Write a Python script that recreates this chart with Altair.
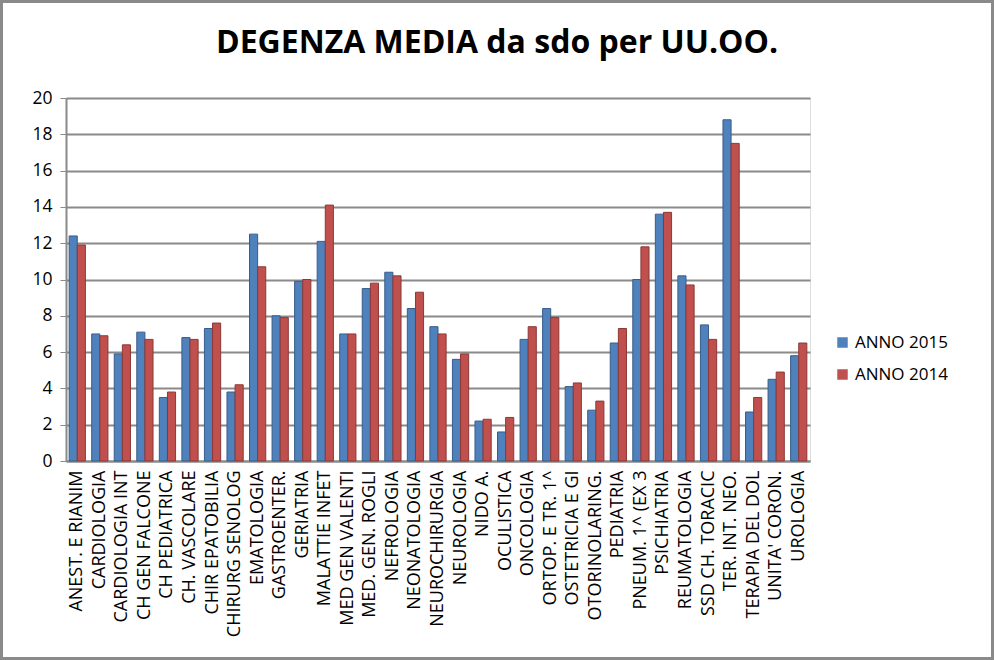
import altair as alt
import pandas as pd

categories = [
    "ANEST. E RIANIM", "CARDIOLOGIA", "CARDIOLOGIA INT", "CH GEN FALCONE",
    "CH PEDIATRICA", "CH. VASCOLARE", "CHIR EPATOBILIA", "CHIRURG SENOLOG",
    "EMATOLOGIA", "GASTROENTER.", "GERIATRIA", "MALATTIE INFET",
    "MED GEN VALENTI", "MED. GEN. ROGLI", "NEFROLOGIA", "NEONATOLOGIA",
    "NEUROCHIRURGIA", "NEUROLOGIA", "NIDO A.", "OCULISTICA", "ONCOLOGIA",
    "ORTOP. E TR. 1^", "OSTETRICIA E GI", "OTORINOLARING.", "PEDIATRIA",
    "PNEUM. 1^ (EX 3", "PSICHIATRIA", "REUMATOLOGIA", "SSD CH. TORACIC",
    "TER. INT. NEO.", "TERAPIA DEL DOL", "UNITA' CORON.", "UROLOGIA",
]
anno_2015 = [12.4, 7.0, 5.9, 7.1, 3.5, 6.8, 7.3, 3.8, 12.5, 8.0, 9.9, 12.1,
             7.0, 9.5, 10.4, 8.4, 7.4, 5.6, 2.2, 1.6, 6.7, 8.4, 4.1, 2.8,
             6.5, 10.0, 13.6, 10.2, 7.5, 18.8, 2.7, 4.5, 5.8]
anno_2014 = [11.9, 6.9, 6.4, 6.7, 3.8, 6.7, 7.6, 4.2, 10.7, 7.9, 10.0, 14.1,
             7.0, 9.8, 10.2, 9.3, 7.0, 5.9, 2.3, 2.4, 7.4, 7.9, 4.3, 3.3,
             7.3, 11.8, 13.7, 9.7, 6.7, 17.5, 3.5, 4.9, 6.5]
series = ["ANNO 2015", "ANNO 2014"]
colors = ["#4F81BD", "#C0504D"]
strokes = ["#385D8A", "#8C3836"]
y_ticks = [0, 2, 4, 6, 8, 10, 12, 14, 16, 18, 20]
title_text = "DEGENZA MEDIA da sdo per UU.OO."

rows = []
for i, c in enumerate(categories):
    rows.append({"cat": c, "serie": series[0], "val": anno_2015[i]})
    rows.append({"cat": c, "serie": series[1], "val": anno_2014[i]})
df = pd.DataFrame(rows)

FONT = "Open Sans"
W, H = 744, 363
PL, PT = 66, 98

bars = alt.Chart(df).mark_bar(strokeWidth=1).encode(
    x=alt.X("cat:N", sort=categories, title=None,
            scale=alt.Scale(paddingInner=0.28, paddingOuter=0.14),
            axis=alt.Axis(labelAngle=270, labelAlign="right", labelBaseline="middle",
                          labelFontSize=18, labelFont=FONT, labelColor="#000000",
                          labelPadding=9, ticks=False, domainColor="#8a8a8a",
                          domainWidth=2, labelOverlap=False)),
    xOffset=alt.XOffset("serie:N", sort=series),
    y=alt.Y("val:Q", title=None,
            scale=alt.Scale(domain=[0, 20], nice=False),
            axis=alt.Axis(values=y_ticks, labelFontSize=17.5, labelFont=FONT,
                          labelColor="#000000", tickColor="#8a8a8a", tickSize=6,
                          domainColor="#8a8a8a", domainWidth=2, gridColor="#8a8a8a",
                          gridWidth=2, labelPadding=8)),
    color=alt.Color("serie:N", sort=series,
                    scale=alt.Scale(domain=series, range=colors),
                    legend=alt.Legend(title=None, orient="none", legendX=768, legendY=236,
                                      symbolType="square", symbolSize=110,
                                      symbolStrokeWidth=0,
                                      labelFontSize=17, labelFont=FONT,
                                      labelColor="#000000", rowPadding=14,
                                      labelOffset=4)),
    stroke=alt.Stroke("serie:N", sort=series,
                      scale=alt.Scale(domain=series, range=strokes), legend=None),
)

title = alt.Chart(pd.DataFrame({"t": [title_text]})).mark_text(
    font=FONT, fontSize=32, fontWeight="bold", color="#000000",
    align="center", baseline="alphabetic",
).encode(
    text="t:N", x=alt.value(497 - PL), y=alt.value(53 - PT),
)

frame = alt.Chart(pd.DataFrame({"k": [0]})).mark_rect(
    fill=None, stroke="#8a8a8a", strokeWidth=3
).encode(
    x=alt.value(-PL + 1.5), x2=alt.value(994 - PL - 1.5),
    y=alt.value(-PT + 1.5), y2=alt.value(660 - PT - 1.5),
)

chart = alt.layer(bars, title, frame).properties(
    width=W, height=H,
    padding={"left": PL, "top": PT, "right": 994 - PL - W, "bottom": 660 - PT - H},
    autosize=alt.AutoSizeParams(type="none"),
).configure_view(stroke=None).configure(background="white")

chart.save("out.html", embed_options={"renderer": "svg", "actions": False})
